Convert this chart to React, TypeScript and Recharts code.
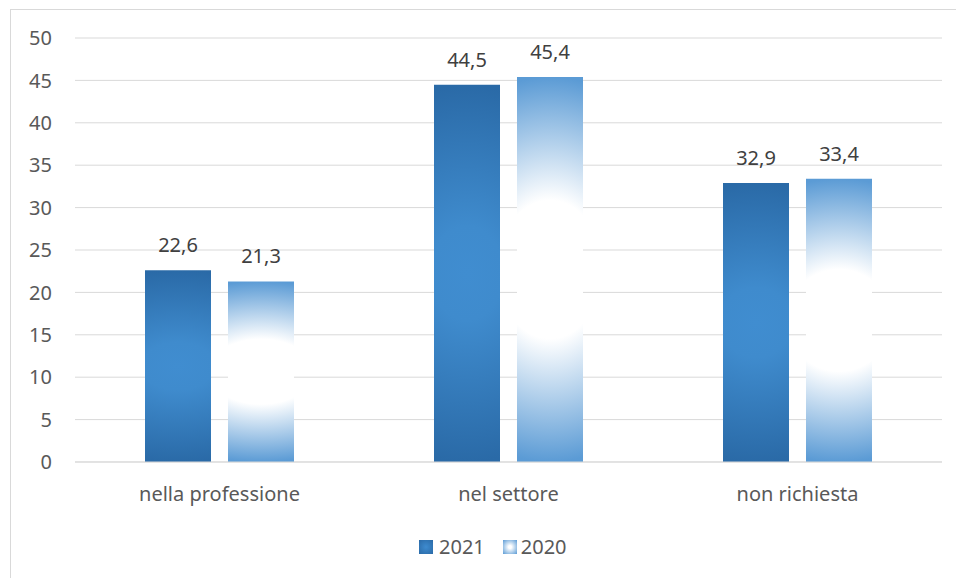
import { BarChart, Bar, XAxis, YAxis, CartesianGrid, Legend, LabelList } from 'recharts';

const categories = ['nella professione', 'nel settore', 'non richiesta'];
const values2021 = [22.6, 44.5, 32.9];
const values2020 = [21.3, 45.4, 33.4];
const yTicks = [0, 5, 10, 15, 20, 25, 30, 35, 40, 45, 50];

const seriesNames = ['2021', '2020'];

const data = categories.map((name, i) => ({
  name,
  v2021: values2021[i],
  v2020: values2020[i],
}));

const FONT = '"Noto Sans", sans-serif';

// etichette con la virgola decimale
const fmt = (v: any) => String(v).replace('.', ',');

// ellisse molto larga: la sfumatura è quasi solo verticale
const wideEllipse = 'translate(0.5 0.5) scale(4.4 1) translate(-0.5 -0.5)';

const LegendBox = () => (
  <div style={{ display: 'flex', alignItems: 'center', fontFamily: FONT, fontSize: 20, color: '#595959' }}>
    <span
      style={{
        width: 14,
        height: 14,
        display: 'inline-block',
        background: 'radial-gradient(circle, #3e8bcf 0%, #2a6aa7 100%)',
      }}
    />
    <span style={{ marginLeft: 6, marginRight: 18, lineHeight: '20px' }}>{seriesNames[0]}</span>
    <span
      style={{
        width: 14,
        height: 14,
        display: 'inline-block',
        background: 'radial-gradient(circle, #ffffff 15%, #5b9bd5 100%)',
      }}
    />
    <span style={{ marginLeft: 4, lineHeight: '20px' }}>{seriesNames[1]}</span>
  </div>
);

export default function App() {
  return (
    <div style={{ position: 'absolute', left: 0, top: 0, width: 956, height: 578, overflow: 'hidden', background: '#fff' }}>
      <div
        style={{
          position: 'absolute',
          left: 10,
          top: 9,
          width: 1000,
          height: 1000,
          border: '1px solid #d9d9d9',
        }}
      />
      <div style={{ position: 'absolute', left: 0, top: 0 }}>
        <BarChart
          width={956}
          height={578}
          data={data}
          margin={{ top: 38, right: 14, bottom: 0, left: 0 }}
          barCategoryGap={70}
          barGap={17}
        >
          <defs>
            <radialGradient id="g2021" cx="0.5" cy="0.5" r="0.5" gradientTransform={wideEllipse}>
              <stop offset="0%" stopColor="#408dd0" />
              <stop offset="25%" stopColor="#3f8bcd" />
              <stop offset="100%" stopColor="#2a6aa7" />
            </radialGradient>
            <radialGradient id="g2020" cx="0.5" cy="0.5" r="0.5" gradientTransform={wideEllipse}>
              <stop offset="0%" stopColor="#ffffff" />
              <stop offset="36%" stopColor="#ffffff" />
              <stop offset="100%" stopColor="#5b9bd5" />
            </radialGradient>
          </defs>
          <CartesianGrid vertical={false} stroke="#d9d9d9" strokeWidth={1} />
          <XAxis
            dataKey="name"
            height={116}
            axisLine={{ stroke: '#d9d9d9', strokeWidth: 1 }}
            tickLine={false}
            tickMargin={19}
            tick={{ fill: '#595959', fontSize: 20, fontFamily: FONT }}
          />
          <YAxis
            width={75}
            domain={[0, 50]}
            ticks={yTicks}
            axisLine={false}
            tickLine={false}
            tickMargin={17}
            tick={{ fill: '#595959', fontSize: 20, fontFamily: FONT }}
          />
          <Legend
            verticalAlign="middle"
            content={<LegendBox />}
            wrapperStyle={{ left: 419, top: 537, width: 'auto', height: 20 }}
          />
          <Bar dataKey="v2021" name={seriesNames[0]} fill="url(#g2021)" isAnimationActive={false}>
            <LabelList
              dataKey="v2021"
              position="top"
              offset={18}
              formatter={fmt}
              style={{ fill: '#404040', fontSize: 20, fontFamily: FONT }}
            />
          </Bar>
          <Bar dataKey="v2020" name={seriesNames[1]} fill="url(#g2020)" isAnimationActive={false}>
            <LabelList
              dataKey="v2020"
              position="top"
              offset={18}
              formatter={fmt}
              style={{ fill: '#404040', fontSize: 20, fontFamily: FONT }}
            />
          </Bar>
        </BarChart>
      </div>
    </div>
  );
}
